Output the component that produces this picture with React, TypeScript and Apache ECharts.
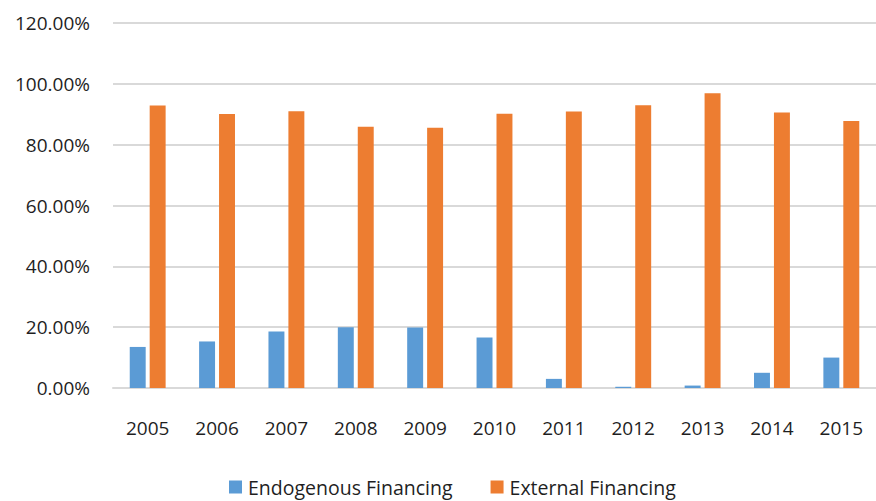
import React, { useEffect, useRef } from "react";
import * as echarts from "echarts";

const years = ["2005", "2006", "2007", "2008", "2009", "2010", "2011", "2012", "2013", "2014", "2015"];
const endogenous = [13.5, 15.3, 18.6, 20.0, 19.9, 16.6, 3.0, 0.4, 0.8, 5.0, 10.0];
const external = [92.9, 90.1, 91.0, 85.9, 85.6, 90.2, 90.9, 93.0, 96.9, 90.6, 87.8];
const seriesNames = ["Endogenous Financing", "External Financing"];

export default function App() {
  const ref = useRef<HTMLDivElement>(null);
  useEffect(() => {
    if (!ref.current) return;
    const chart = echarts.init(ref.current, null, { renderer: "svg" });
    const font = "'Open Sans', sans-serif";
    const txt = "#1f1f1f";
    chart.setOption({
      animation: false,
      textStyle: { fontFamily: font },
      grid: { left: 113, right: 0, top: 23, bottom: 113, containLabel: false },
      legend: {
        bottom: -1,
        left: 224,
        itemWidth: 13,
        itemHeight: 13,
        itemGap: 38,
        icon: "rect",
        textStyle: { fontSize: 19.5, color: txt, fontFamily: font, padding: [0, 0, 0, 1] },
        data: seriesNames,
      },
      xAxis: {
        type: "category",
        data: years,
        axisLine: { lineStyle: { color: "#d9d9d9", width: 2 } },
        axisTick: { show: false },
        axisLabel: { fontSize: 19, color: txt, margin: 30, fontFamily: font },
      },
      yAxis: {
        type: "value",
        min: 0,
        max: 120,
        interval: 20,
        axisLine: { show: false },
        axisTick: { show: false },
        splitLine: { lineStyle: { color: "#d9d9d9", width: 2 } },
        axisLabel: {
          fontSize: 19,
          color: txt,
          margin: 23,
          fontFamily: font,
          formatter: (v: number) => v.toFixed(2) + "%",
        },
      },
      series: [
        {
          name: seriesNames[0],
          type: "bar",
          data: endogenous,
          barWidth: "23%",
          barGap: "25%",
          itemStyle: { color: "#5b9bd5" },
        },
        {
          name: seriesNames[1],
          type: "bar",
          data: external,
          barWidth: "23%",
          barGap: "25%",
          itemStyle: { color: "#ed7d31" },
        },
      ],
    });
    return () => chart.dispose();
  }, []);
  return <div ref={ref} style={{ width: 876, height: 501, position: "absolute", left: 0, top: 0 }} />;
}
